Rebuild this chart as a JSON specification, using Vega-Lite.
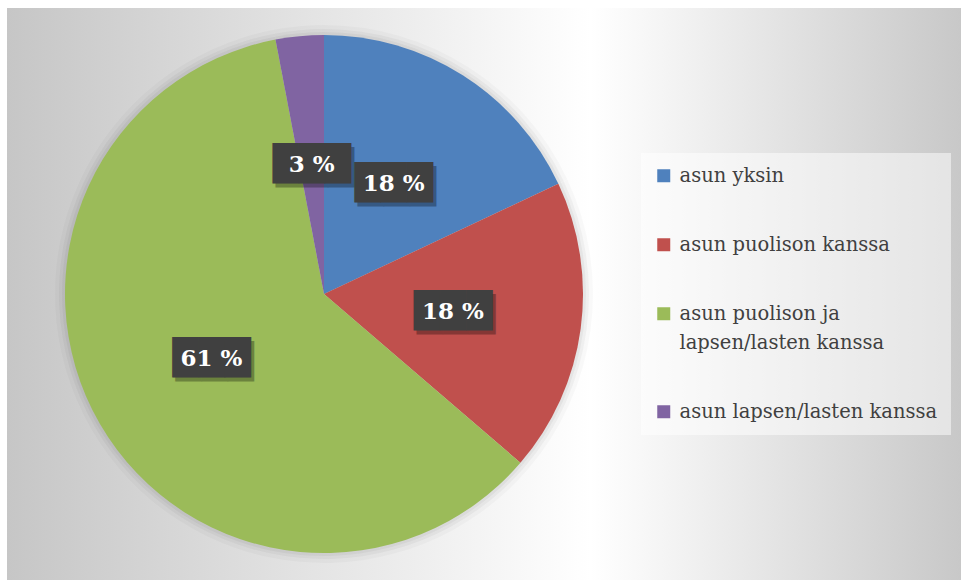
{
  "$schema": "https://vega.github.io/schema/vega-lite/v6.json",
  "padding": {"left": 7, "top": 8, "right": 0, "bottom": 0},
  "background": "#ffffff",
  "config": {
    "locale": {"number": {"decimal": ",", "thousands": "\u00a0", "grouping": [3], "currency": ["", "\u00a0€"], "percent": "\u00a0%"}},
    "view": {"stroke": null},
    "style": {"guide-label": {"lineHeight": 29}}
  },
  "data": {
    "values": [
      {"n": 1, "ryhma": "asun yksin", "osuus": 0.180},
      {"n": 2, "ryhma": "asun puolison kanssa", "osuus": 0.183},
      {"n": 3, "ryhma": "asun puolison ja lapsen/lasten kanssa", "osuus": 0.607},
      {"n": 4, "ryhma": "asun lapsen/lasten kanssa", "osuus": 0.030}
    ]
  },
  "spacing": 0,
  "resolve": {"scale": {"color": "independent", "theta": "independent"}, "legend": {"color": "independent"}},
  "hconcat": [
    {
      "width": 634,
      "height": 572,
      "view": {
        "stroke": null,
        "fill": {"gradient": "linear", "x1": 0, "y1": 0, "x2": 1, "y2": 0,
          "stops": [{"offset": 0, "color": "#c6c6c6"}, {"offset": 0.92, "color": "#ffffff"}, {"offset": 1, "color": "#f8f8f8"}]}
      },
      "encoding": {
        "theta": {"field": "osuus", "type": "quantitative", "stack": true},
        "order": {"field": "n", "type": "quantitative"},
        "color": {
          "field": "ryhma", "type": "nominal",
          "scale": {"domain": ["asun yksin", "asun puolison kanssa", "asun puolison ja lapsen/lasten kanssa", "asun lapsen/lasten kanssa"],
                    "range": ["#4F81BD", "#C0504D", "#9BBB59", "#8064A2"]},
          "legend": null
        }
      },
      "layer": [
        {"mark": {"type": "arc", "outerRadius": 269, "opacity": 0.025}, "encoding": {"color": {"value": "#000000"}}},
        {"mark": {"type": "arc", "outerRadius": 265, "opacity": 0.035}, "encoding": {"color": {"value": "#000000"}}},
        {"mark": {"type": "arc", "outerRadius": 262, "opacity": 0.04}, "encoding": {"color": {"value": "#000000"}}},
        {"mark": {"type": "arc", "outerRadius": 259}},
        {"mark": {"type": "text", "radius": 130, "font": "DejaVu Sans", "fontSize": 34, "align": "center", "baseline": "middle", "dx": 3, "dy": 4, "opacity": 0.3, "text": "███"},
         "encoding": {"color": {"value": "#000000"}}},
        {"mark": {"type": "text", "radius": 130, "font": "DejaVu Sans", "fontSize": 34, "align": "center", "baseline": "middle", "text": "███"},
         "encoding": {"color": {"value": "#404040"}}},
        {"mark": {"type": "text", "radius": 130, "font": "DejaVu Serif", "fontSize": 23, "fontWeight": "bold", "align": "center", "baseline": "middle"},
         "encoding": {"color": {"value": "#ffffff"}, "text": {"field": "osuus", "type": "quantitative", "format": ".0%"}}}
      ]
    },
    {
      "width": 320,
      "height": 572,
      "view": {
        "stroke": null,
        "fill": {"gradient": "linear", "x1": 0, "y1": 0, "x2": 1, "y2": 0,
          "stops": [{"offset": 0, "color": "#f8f8f8"}, {"offset": 1, "color": "#c8c8c8"}]}
      },
      "mark": {"type": "arc", "opacity": 0},
      "encoding": {
        "theta": {"field": "osuus", "type": "quantitative", "stack": true},
        "order": {"field": "n", "type": "quantitative"},
        "color": {
          "field": "ryhma", "type": "nominal",
          "scale": {"domain": ["asun yksin", "asun puolison kanssa", "asun puolison ja lapsen/lasten kanssa", "asun lapsen/lasten kanssa"],
                    "range": ["#4F81BD", "#C0504D", "#9BBB59", "#8064A2"]},
          "legend": {
            "orient": "none", "legendX": 0, "legendY": 145, "title": null,
            "fillColor": "rgba(255,255,255,0.5)", "padding": 13,
            "symbolType": "square", "symbolSize": 169, "symbolOpacity": 1, "symbolStrokeWidth": 0,
            "labelFont": "DejaVu Serif", "labelFontSize": 19.5, "labelColor": "#404040", "labelLimit": 300, "labelOffset": 6,
            "rowPadding": 48,
            "labelExpr": "datum.label == 'asun puolison ja lapsen/lasten kanssa' ? ['asun puolison ja', 'lapsen/lasten kanssa'] : datum.label"
          }
        }
      }
    }
  ]
}
